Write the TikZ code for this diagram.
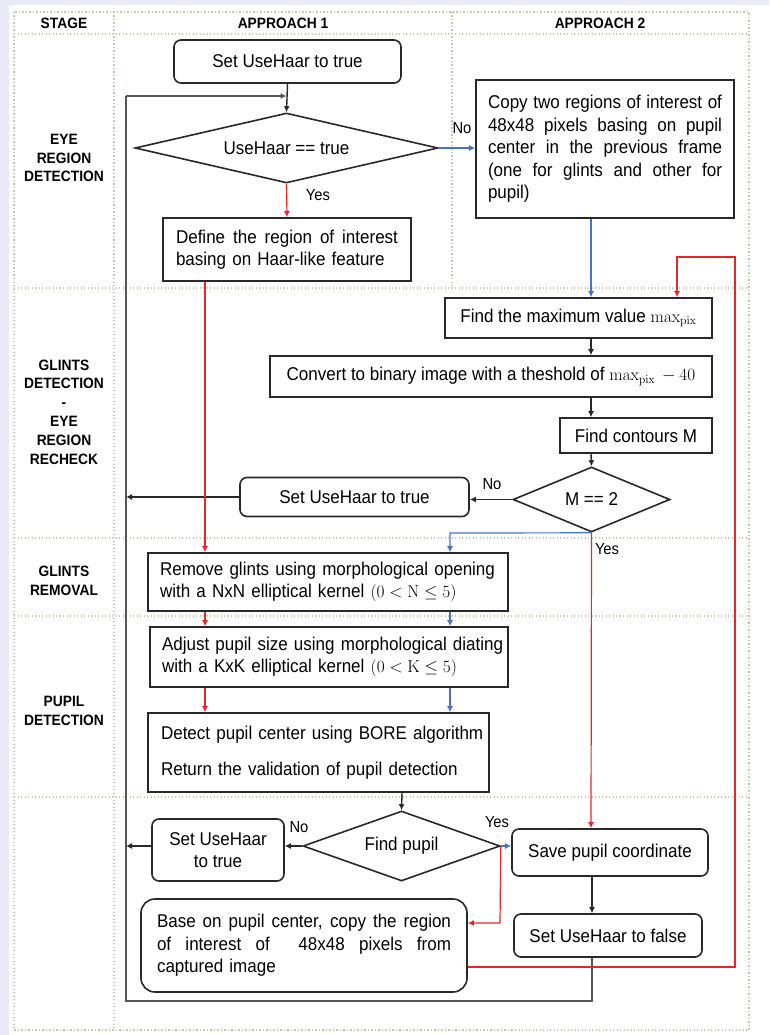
\documentclass[tikz,border=0pt]{standalone}
\usepackage[no-math]{fontspec}
\setmainfont{Liberation Sans}[FakeStretch=0.92]
\usetikzlibrary{shapes.geometric,arrows.meta}
\definecolor{bgc}{RGB}{232,235,246}
\definecolor{gridc}{RGB}{188,204,168}
\definecolor{boxc}{RGB}{40,40,40}
\definecolor{redc}{RGB}{228,40,40}
\definecolor{bluec}{RGB}{70,115,200}
\definecolor{loopc}{RGB}{85,85,85}
\newcommand\jline[2]{\makebox[#1][s]{\spaceskip=0pt\relax\xspaceskip=0pt\relax #2}}
\begin{document}
\begin{tikzpicture}[x=1pt,y=-1pt,
  box/.style={draw=boxc,line width=1.6pt,fill=white,inner sep=0pt,font=\fontsize{18.5}{22.5}\selectfont},
  rbox/.style={box,rounded corners=7pt},
  dia/.style={box,diamond},
  gridline/.style={draw=gridc,line width=1.3pt,dash pattern=on 1.3pt off 2.2pt},
  stage/.style={font=\fontsize{15}{18.8}\selectfont\bfseries,align=center,inner sep=0pt},
  lab/.style={font=\fontsize{16}{18}\selectfont,inner sep=0pt},
  blk/.style={draw=boxc,line width=1.4pt,-{Latex[length=6pt,width=6pt]}},
  redarr/.style={draw=redc,line width=1.2pt,-{Latex[length=6pt,width=6pt]}},
  bluearr/.style={draw=bluec,line width=1.2pt,-{Latex[length=6pt,width=6pt]}},
  loopline/.style={draw=loopc,line width=1.4pt}
]
\useasboundingbox (0,0) rectangle (769,1035);
\fill[bgc] (0,0) rectangle (769,1035);
\fill[white] (9,5) rectangle (769,1035);

% grid
\draw[gridline] (14,12) rectangle (749,1030);
\draw[gridline] (114,12) -- (114,1030);
\draw[gridline] (452,12) -- (452,288);
\foreach \yy in {34,288,538,616,797} \draw[gridline] (14,\yy) -- (749,\yy);

% headers and stage labels
\node[stage] (hs) at (64,23) {STAGE};
\node[stage] (ha1) at (283,23) {APPROACH 1};
\node[stage] (ha2) at (600,23) {APPROACH 2};
\node[stage] (s1) at (64,158) {EYE\\REGION\\DETECTION};
\node[stage] (s2) at (64,412) {GLINTS\\DETECTION\\-\\EYE\\REGION\\RECHECK};
\node[stage] (s3) at (64,581) {GLINTS\\REMOVAL};
\node[stage] (s4) at (64,711) {PUPIL\\DETECTION};

% nodes
\node[rbox,minimum width=227pt,minimum height=43pt] (start) at (287.5,61.5) {Set UseHaar to true};
\node[dia,aspect=4.33,minimum width=303pt,minimum height=70pt] (d1) at (286.5,148) {UseHaar == true};
\node[box,minimum width=248pt,minimum height=63pt,text width=222pt,inner xsep=13pt,align=left] (define) at (287,249.5)
  {\jline{222pt}{Define the region of interest}\\\mbox{basing on Haar-like feature}};
\node[box,minimum width=258pt,minimum height=138pt,text width=234pt,inner xsep=11pt,align=left] (copy) at (605,149)
  {\jline{234pt}{Copy two regions of interest of}\\
   \jline{234pt}{48x48 pixels basing on pupil}\\
   \jline{234pt}{center in the previous frame}\\
   \jline{234pt}{(one for glints and other for}\\
   pupil)};
\node[box,minimum width=267pt,minimum height=40pt] (findmax) at (578.5,318)
  {Find the maximum value $\max_{\mathrm{pix}}$};
\node[box,minimum width=442pt,minimum height=41pt] (convert) at (491,376.5)
  {Convert to binary image with a theshold of $\max_{\mathrm{pix}}{}-40$};
\node[box,minimum width=152pt,minimum height=35pt] (contours) at (636,435.5) {Find contours M};
\node[dia,aspect=2.42,minimum width=157pt,minimum height=65pt] (d2) at (591.5,499.5) {M == 2};
\node[rbox,minimum width=229pt,minimum height=39pt] (set2) at (354.5,497) {Set UseHaar to true};
\node[box,minimum width=360pt,minimum height=58pt,text width=336pt,inner xsep=12pt,align=left] (remove) at (328,582)
  {\mbox{Remove glints using morphological opening}\\\mbox{with a NxN elliptical kernel $(0<\mathrm{N}\leq 5)$}};
\node[box,minimum width=358pt,minimum height=60pt,text width=334pt,inner xsep=12pt,align=left] (adjust) at (329,657)
  {\mbox{Adjust pupil size using morphological diating}\\\mbox{with a KxK elliptical kernel $(0<\mathrm{K}\leq 5)$}};
\node[box,minimum width=341pt,minimum height=79pt,text width=315pt,inner xsep=13pt,align=left] (detect) at (318.5,752.5)
  {\mbox{Detect pupil center using BORE algorithm}\\[13pt]\mbox{Return the validation of pupil detection}};
\node[dia,aspect=2.81,minimum width=197pt,minimum height=70pt] (d3) at (401.5,846) {Find pupil};
\node[rbox,minimum width=132pt,minimum height=62pt,align=center] (set3) at (218,850) {Set UseHaar\\to true};
\node[rbox,minimum width=196pt,minimum height=47pt] (save) at (610,852.5) {Save pupil coordinate};
\node[rbox,minimum width=188pt,minimum height=43pt] (setfalse) at (608,935.5) {Set UseHaar to false};
\node[box,rounded corners=14pt,minimum width=326pt,minimum height=93pt,text width=294pt,inner xsep=16pt,align=left] (base) at (304,945.5)
  {\jline{294pt}{Base on pupil center, copy the region}\\
   \jline{294pt}{of interest of \ 48x48 pixels from}\\
   captured image};

% helper coordinates
\coordinate (lx) at (126,0);
\coordinate (cB) at (591,0);
\coordinate (cS) at (592,0);
\coordinate (cR) at (205,0);
\coordinate (cBl) at (450,0);
\coordinate (cD) at (402,0);
\coordinate (loopin) at (286.5,96);
\coordinate (loopul) at (126,96);
\coordinate (loopbl) at (126,1001);
\coordinate (loopbr) at (592,1001);
\coordinate (rtop1) at (735,257);
\coordinate (rtop2) at (677,257);
\coordinate (rbot) at (735,967);
\coordinate (bcorner) at (450,533);
\coordinate (pr) at (500,923);

% connectors
\draw[blk] (start.south) -- (d1.north);
\draw[loopline] (cS |- setfalse.south) -- (loopbr) -- (loopbl) -- (loopul);
\draw[blk,draw=loopc] (loopul) -- (loopin);
\draw[redarr] (d1.south) -- (define.north);
\node[lab] (yes1) at (318,195) {Yes};
\draw[bluearr] (d1.east) -- (copy.west |- d1.east);
\node[lab] (no1) at (462,128) {No};
\draw[bluearr] (cB |- copy.south) -- (cB |- findmax.north);
\draw[redarr] (base.east |- rbot) -- (rbot) -- (rtop1) -- (rtop2) -- (rtop2 |- findmax.north);
\draw[blk] (cB |- findmax.south) -- (cB |- convert.north);
\draw[blk] (cB |- convert.south) -- (cB |- contours.north);
\draw[blk] (cB |- contours.south) -- (d2.north);
\draw[blk] (d2.west) -- (set2.east |- d2.west);
\node[lab] (no2) at (492,484) {No};
\draw[blk] (set2.west) -- (lx |- set2.west);
\draw[bluearr] (d2.south) -- (bcorner) -- (bcorner |- remove.north);
\draw[redarr] (d2.south) -- (cB |- save.north);
\node[lab] (yes2) at (607,549) {Yes};
\draw[redarr] (cR |- define.south) -- (cR |- remove.north);
\draw[redarr] (cR |- remove.south) -- (cR |- adjust.north);
\draw[redarr] (cR |- adjust.south) -- (cR |- detect.north);
\draw[bluearr] (cBl |- remove.south) -- (cBl |- adjust.north);
\draw[bluearr] (cBl |- adjust.south) -- (cBl |- detect.north);
\draw[blk] (cD |- detect.south) -- (d3.north);
\draw[blk] (d3.west) -- (set3.east |- d3.west);
\node[lab] (no3) at (299,827) {No};
\draw[blk] (set3.west |- d3.west) -- (lx |- d3.west);
\draw[bluearr] (d3.east) -- (save.west |- d3.east);
\node[lab] (yes3) at (497,822) {Yes};
\draw[redarr] (d3.east) -- (pr) -- (base.east |- pr);
\draw[blk] (cS |- save.south) -- (cS |- setfalse.north);
\end{tikzpicture}
\end{document}
